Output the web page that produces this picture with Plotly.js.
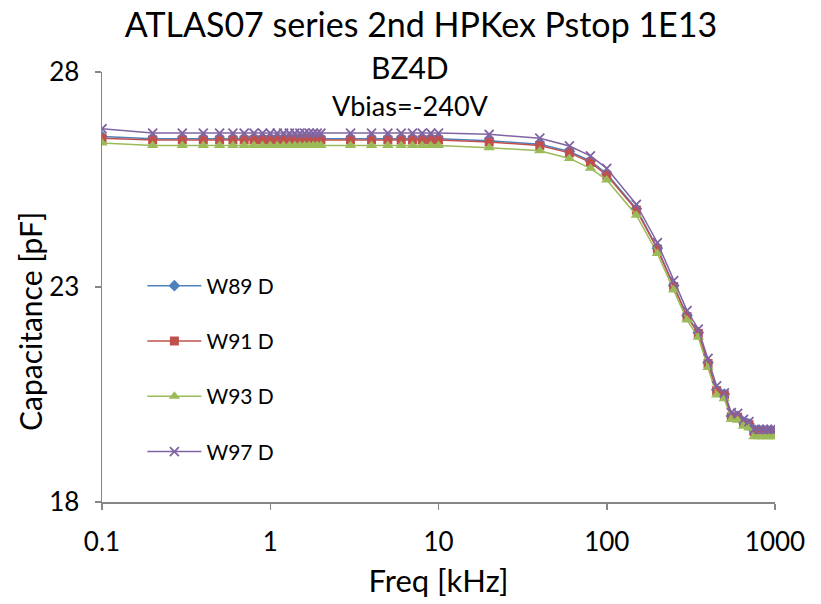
<!DOCTYPE html>
<html>
<head>
<meta charset="utf-8">
<script src="https://cdn.plot.ly/plotly-3.0.1.min.js"></script>
<style>html,body{margin:0;padding:0;background:#fff;}#chart{width:821px;height:604px;}</style>
</head>
<body>
<div id="chart"></div>
<script>
var freq = [0.1,0.2,0.3,0.4,0.5,0.6,0.7,0.8,0.9,1,1.1,1.2,1.3,1.4,1.5,1.6,1.7,1.8,1.9,2,3,4,5,6,7,8,9,10,20,40,60,80,100,150,200,250,300,350,400,450,500,550,600,650,700,750,800,850,900,950,1000];
var w89 = [26.50,26.45,26.45,26.45,26.45,26.45,26.45,26.45,26.45,26.45,26.45,26.45,26.45,26.45,26.45,26.45,26.45,26.45,26.45,26.45,26.45,26.45,26.45,26.45,26.45,26.45,26.45,26.45,26.40,26.32,26.15,25.93,25.63,24.82,23.90,23.03,22.33,21.94,21.24,20.61,20.51,20.00,19.99,19.86,19.82,19.66,19.66,19.66,19.66,19.66,19.66];
var w91 = [26.46,26.42,26.42,26.42,26.42,26.42,26.42,26.42,26.42,26.42,26.42,26.42,26.42,26.42,26.42,26.42,26.42,26.42,26.42,26.42,26.42,26.42,26.42,26.42,26.42,26.42,26.42,26.42,26.37,26.29,26.12,25.90,25.60,24.79,23.88,23.01,22.31,21.92,21.22,20.59,20.49,19.98,19.97,19.84,19.80,19.64,19.64,19.64,19.64,19.64,19.64];
var w93 = [26.35,26.29,26.29,26.29,26.29,26.29,26.29,26.29,26.29,26.29,26.29,26.29,26.29,26.29,26.29,26.29,26.29,26.29,26.29,26.29,26.29,26.29,26.29,26.29,26.29,26.29,26.29,26.29,26.24,26.17,25.99,25.76,25.49,24.67,23.78,22.93,22.23,21.83,21.13,20.49,20.40,19.92,19.90,19.76,19.72,19.52,19.52,19.52,19.52,19.52,19.52];
var w97 = [26.68,26.58,26.58,26.58,26.58,26.58,26.58,26.58,26.58,26.58,26.58,26.58,26.58,26.58,26.58,26.58,26.58,26.58,26.58,26.58,26.58,26.58,26.58,26.58,26.58,26.58,26.58,26.58,26.55,26.46,26.28,26.05,25.76,24.92,24.03,23.15,22.45,22.02,21.34,20.70,20.54,20.08,20.06,19.92,19.87,19.69,19.69,19.69,19.69,19.69,19.69];
var seriesNames = ["W89 D","W91 D","W93 D","W97 D"];
var xTickVals = [0.1,1,10,100,1000];
var xTickText = ["0.1","1","10","100","1000"];
var yTickVals = [18,23,28];

var FONT = "Lato, 'Open Sans', sans-serif";
var colors = ["#4F81BD","#C0504D","#9BBB59","#8064A2"];
var symbols = ["diamond","square","triangle-up","x-thin-open"];
var sizes = [9,9,10,9];
var ys = [w89,w91,w93,w97];
var traces = ys.map(function(y,i){
  return {
    x: freq, y: y, name: seriesNames[i], type: "scatter", mode: "lines+markers",
    legendgroup: "g"+i,
    line: {color: colors[i], width: 1.5},
    marker: {symbol: symbols[i], size: sizes[i], color: colors[i],
             line: {color: colors[i], width: i===3 ? 1.8 : 0}}
  };
});

var layout = {
  width: 821, height: 604,
  margin: {l: 102, r: 46, t: 72, b: 102},
  paper_bgcolor: "#ffffff", plot_bgcolor: "#ffffff",
  font: {family: FONT, color: "#000000", size: 20},
  showlegend: true,
  title: {text: "ATLAS07 series 2nd HPKex Pstop 1E13", font: {family: FONT, size: 34, color: "#000"},
          x: (421-102)/673, xref: "paper", xanchor: "center", y: 1 - 25/604, yanchor: "middle", yref: "container"},
  annotations: [
    {text: "BZ4D", xref: "paper", yref: "paper", x: (410-102)/673, y: (502-67)/430,
     xanchor: "center", yanchor: "middle", showarrow: false, font: {family: FONT, size: 30, color: "#000"}},
    {text: "Vbias=-240V", xref: "paper", yref: "paper", x: (410-102)/673, y: (502-105)/430,
     xanchor: "center", yanchor: "middle", showarrow: false, font: {family: FONT, size: 27, color: "#000"}},
    {text: "Capacitance [pF]", xref: "paper", yref: "paper", x: (30-102)/673, y: (502-322)/430,
     xanchor: "center", yanchor: "middle", textangle: -90, showarrow: false,
     font: {family: FONT, size: 30, color: "#000"}}
  ],
  legend: {x: 0.06, y: 0.55, xanchor: "left", yanchor: "top", bgcolor: "rgba(0,0,0,0)",
           font: {family: FONT, size: 21, color: "#000"}, tracegroupgap: 25, itemwidth: 54},
  xaxis: {
    type: "log", range: [-1, 3], tickvals: xTickVals, ticktext: xTickText,
    showgrid: false, zeroline: false, showline: true, linecolor: "#868686", linewidth: 1.5,
    ticks: "outside", ticklen: 6, tickcolor: "#868686", tickwidth: 1.5, ticklabelstandoff: 10,
    tickfont: {family: FONT, size: 26, color: "#000"},
    title: {text: "Freq [kHz]", font: {family: FONT, size: 31, color: "#000"}, standoff: 14}
  },
  yaxis: {
    range: [18, 28], tickvals: yTickVals,
    showgrid: false, zeroline: false, showline: true, linecolor: "#868686", linewidth: 1.5,
    ticks: "outside", ticklen: 6, tickcolor: "#868686", tickwidth: 1.5, ticklabelstandoff: 10,
    tickfont: {family: FONT, size: 26, color: "#000"}
  }
};
Plotly.newPlot("chart", traces, layout, {displayModeBar: false, staticPlot: true});
</script>
</body>
</html>
